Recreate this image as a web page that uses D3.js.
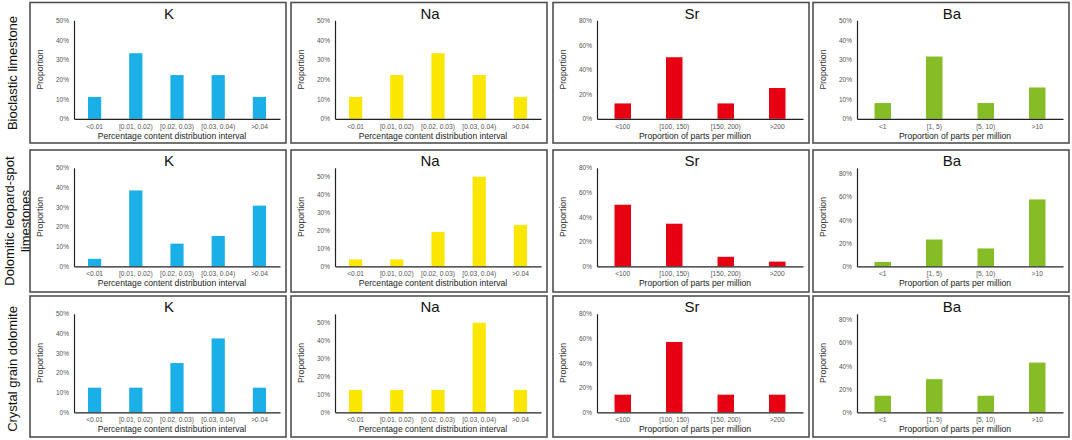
<!DOCTYPE html>
<html>
<head>
<meta charset="utf-8">
<script src="https://cdn.jsdelivr.net/npm/d3@7/dist/d3.min.js"></script>
<style>
  html, body { margin: 0; padding: 0; background: #fff; }
  svg { display: block; font-family: "Liberation Sans", Arial, sans-serif; }
</style>
</head>
<body>
<svg id="chart" width="1072" height="440"></svg>
<script>
// ---------- data ----------
const rowLabels = [["Bioclastic limestone"], ["Dolomitic leopard-spot", "limestones"], ["Crystal grain dolomite"]];
const elements = ["K", "Na", "Sr", "Ba"];
const kCategories = ["<0.01", "[0.01, 0.02)", "[0.02, 0.03)", "[0.03, 0.04)", ">0.04"];
const naCategories = ["<0.01", "[0.01, 0.02)", "[0.02, 0.03)", "[0.03, 0.04)", ">0.04"];
const srCategories = ["<100", "[100, 150)", "[150, 200)", ">200"];
const baCategories = ["<1", "[1, 5)", "[5, 10)", ">10"];
// proportions (%) per row: Bioclastic limestone, Dolomitic leopard-spot limestones, Crystal grain dolomite
const kValues = [[11.1, 33.3, 22.2, 22.2, 11.1], [3.8, 38.5, 11.5, 15.4, 30.8], [12.5, 12.5, 25, 37.5, 12.5]];
const naValues = [[11.1, 22.2, 33.3, 22.2, 11.1], [3.8, 3.8, 19.2, 50, 23.1], [12.5, 12.5, 12.5, 50, 12.5]];
const srValues = [[12.5, 50, 12.5, 25], [50, 34.6, 7.7, 3.8], [14.3, 57.1, 14.3, 14.3]];
const baValues = [[8.0, 31.6, 8.0, 15.9], [3.8, 23.1, 15.4, 57.7], [14.3, 28.6, 14.3, 42.9]];
const kAxisMax = [50, 50, 50], kTickStep = [10, 10, 10];
const naAxisMax = [50, 55, 55], naTickStep = [10, 10, 10];
const srAxisMax = [80, 80, 80], srTickStep = [20, 20, 20];
const baAxisMax = [50, 85, 85], baTickStep = [10, 20, 20];
const xTitleContent = "Percentage content distribution interval";
const xTitlePpm = "Proportion of parts per million";
const yTitle = "Proportion";

// ---------- config built from the arrays ----------
const panels = {
  K:  { cats: kCategories,  values: kValues,  max: kAxisMax,  step: kTickStep,  color: "#1aafe6", xTitle: xTitleContent },
  Na: { cats: naCategories, values: naValues, max: naAxisMax, step: naTickStep, color: "#fbe600", xTitle: xTitleContent },
  Sr: { cats: srCategories, values: srValues, max: srAxisMax, step: srTickStep, color: "#e60012", xTitle: xTitlePpm },
  Ba: { cats: baCategories, values: baValues, max: baAxisMax, step: baTickStep, color: "#86bc25", xTitle: xTitlePpm }
};

// ---------- layout ----------
const colLeft = [30, 291, 553, 813];
const boxW = 256;
const rowTop = [2.5, 150, 296];
const boxH = [140.5, 142, 141];
const rowCenter = [73, 221, 369];
const rowLabelX = [[12], [9.5, 25], [12]];

const svg = d3.select("#chart");

rowLabels.forEach((lines, r) => {
  lines.forEach((ln, i) => {
    const x = rowLabelX[r][i];
    svg.append("text")
      .attr("transform", `translate(${x},${rowCenter[r]}) rotate(-90)`)
      .attr("text-anchor", "middle")
      .attr("dominant-baseline", "central")
      .attr("font-size", 13)
      .attr("fill", "#111")
      .text(ln);
  });
});

for (let r = 0; r < 3; r++) {
  elements.forEach((el, c) => {
    const p = panels[el];
    const left = colLeft[c], top = rowTop[r];
    const g = svg.append("g");
    g.append("rect")
      .attr("x", left).attr("y", top)
      .attr("width", boxW).attr("height", boxH[r])
      .attr("fill", "none").attr("stroke", "#505050").attr("stroke-width", 1.6);

    const x0 = left + 44, x1 = left + 250;
    const yTop = top + 17.8, yBase = top + 116.3;
    const x = d3.scaleBand().domain(p.cats).range([x0, x1]).paddingInner(0.68).paddingOuter(0.34);
    const y = d3.scaleLinear().domain([0, p.max[r]]).range([yBase, yTop]);

    const data = p.cats.map((cat, i) => ({ cat, v: p.values[r][i] }));
    g.selectAll("rect.bar").data(data).join("rect")
      .attr("class", "bar")
      .attr("x", d => x(d.cat))
      .attr("width", x.bandwidth())
      .attr("y", d => y(d.v))
      .attr("height", d => y(0) - y(d.v))
      .attr("fill", p.color);

    const tickVals = d3.range(0, p.max[r] + 0.001, p.step[r]).filter(t => t <= p.max[r]);
    const yAxis = g.append("g").attr("transform", `translate(${x0},0)`)
      .call(d3.axisLeft(y).tickValues(tickVals).tickSize(0).tickSizeOuter(0).tickPadding(5).tickFormat(d => d + "%"));
    yAxis.select(".domain").attr("stroke", "#222").attr("stroke-width", 1.2);
    yAxis.selectAll("text").attr("font-size", 6.5).attr("fill", "#555").attr("font-family", "Liberation Sans, Arial, sans-serif");

    const xAxis = g.append("g").attr("transform", `translate(0,${yBase})`)
      .call(d3.axisBottom(x).tickSize(0).tickSizeOuter(0).tickPadding(5));
    xAxis.select(".domain").attr("stroke", "#222").attr("stroke-width", 1.2);
    xAxis.selectAll("text").attr("font-size", 6.7).attr("fill", "#555").attr("font-family", "Liberation Sans, Arial, sans-serif");

    // title
    g.append("text")
      .attr("x", left + 139).attr("y", top + 10.5)
      .attr("text-anchor", "middle").attr("dominant-baseline", "central")
      .attr("font-size", 15).attr("fill", "#111")
      .text(el);

    // y title
    g.append("text")
      .attr("transform", `translate(${left + 10},${(yTop + yBase) / 2}) rotate(-90)`)
      .attr("text-anchor", "middle").attr("dominant-baseline", "central")
      .attr("font-size", 8.7).attr("fill", "#333")
      .text(yTitle);

    // x title
    g.append("text")
      .attr("x", left + 142).attr("y", top + 133.3)
      .attr("text-anchor", "middle").attr("dominant-baseline", "central")
      .attr("font-size", 8.6).attr("fill", "#222")
      .text(p.xTitle);
  });
}
</script>
</body>
</html>
